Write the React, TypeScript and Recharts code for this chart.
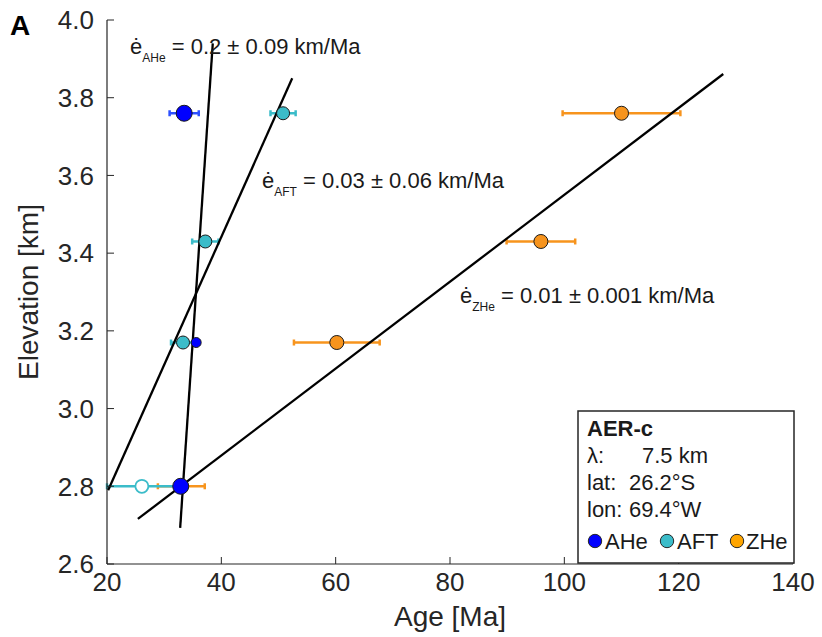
import { ScatterChart, Scatter, XAxis, YAxis, ErrorBar, ReferenceLine, Label } from "recharts";

const INK = "#262626";
const FONT = "'Liberation Sans', Arial, Helvetica, sans-serif";

// ages [Ma], elevations [km], age errors [Ma]
const aheAge = [33.5, 32.9];
const aheElev = [3.76, 2.8];
const aheErr = [2.55, 1.0];

// small AHe marker at 3.17 km (partly hidden behind the AFT point)
const aheSmallAge = [35.6];
const aheSmallElev = [3.17];
const aheSmallErr = [0.5];

const aftAge = [50.8, 37.2, 33.3];
const aftElev = [3.76, 3.43, 3.17];
const aftErr = [2.2, 2.3, 2.1];

// open AFT point (not used in the fit)
const aftOpenAge = [26.1];
const aftOpenElev = [2.8];
const aftOpenErr = [[6.1, 6.5]];

const zheAge = [110.0, 95.9, 60.2, 33.0];
const zheElev = [3.76, 3.43, 3.17, 2.8];
const zheErr = [10.3, 6.0, 7.5, 4.1];

// regression lines, end points as [age, elevation]
const aheFit = [[32.8, 2.693], [38.5, 3.94]];
const aftFit = [[20.2, 2.79], [52.4, 3.85]];
const zheFit = [[25.4, 2.716], [127.8, 3.861]];

const xTicks = [20, 40, 60, 80, 100, 120, 140];
const yTicks = [2.6, 2.8, 3.0, 3.2, 3.4, 3.6, 3.8, 4.0];

const rows = (age: number[], elev: number[], err: any[]) =>
  age.map((a, i) => ({ age: a, elev: elev[i], err: err[i] }));

const seg = (p: number[][]) => p.map(([x, y]) => ({ x, y }));

const dot = (r: number, fill: string, stroke = "#1a1a1a", sw = 1) => (props: any) =>
  <circle cx={props.cx} cy={props.cy} r={r} fill={fill} stroke={stroke} strokeWidth={sw} />;

const BLUE = "#0000ff";
const CYAN = "#3bbcc9";
const ORANGE = "#f7941d";

function Rate({ x, y, sub, text }: { x: number; y: number; sub: string; text: string }) {
  return (
    <text x={x} y={y} fontSize={22} fill="#1a1a1a">
      ė
      <tspan dy={8} fontSize={12}>{sub}</tspan>
      <tspan dy={-8}>{" " + text}</tspan>
    </text>
  );
}

export default function App() {
  const axisProps = {
    type: "number" as const,
    allowDataOverflow: true,
    axisLine: { stroke: INK, strokeWidth: 1.2 },
    tickLine: { stroke: INK },
    tickSize: -7,
  };

  return (
    <div style={{ position: "absolute", left: 0, top: 0, width: 822, height: 637, fontFamily: FONT, background: "#fff" }}>
      <ScatterChart width={822} height={637} margin={{ top: 20, right: 29, bottom: 29, left: 0 }} style={{ fontFamily: FONT }}>
        <XAxis
          {...axisProps}
          dataKey="age"
          domain={[20, 140]}
          ticks={xTicks}
          height={44}
          tickMargin={16}
          tick={{ fill: INK, fontSize: 26 }}
        >
          <Label value="Age [Ma]" position="bottom" offset={-2} fill={INK} fontSize={28} />
        </XAxis>
        <XAxis {...axisProps} xAxisId="top" orientation="top" domain={[20, 140]} ticks={xTicks} height={0} tick={false} />
        <YAxis
          {...axisProps}
          dataKey="elev"
          domain={[2.6, 4.0]}
          ticks={yTicks}
          width={107}
          tickMargin={20}
          tick={{ fill: INK, fontSize: 26 }}
          tickFormatter={(v: number) => v.toFixed(1)}
        >
          <Label value="Elevation [km]" angle={-90} position="insideLeft" offset={28} fill={INK} fontSize={28} style={{ textAnchor: "middle" }} />
        </YAxis>
        <YAxis {...axisProps} yAxisId="right" orientation="right" domain={[2.6, 4.0]} ticks={yTicks} width={0} tick={false} />

        <Scatter name="ZHe" data={rows(zheAge, zheElev, zheErr)} shape={dot(7, ORANGE)} isAnimationActive={false}>
          <ErrorBar dataKey="err" direction="x" width={3} stroke={ORANGE} strokeWidth={2.5} />
        </Scatter>
        <Scatter name="AFT open" data={rows(aftOpenAge, aftOpenElev, aftOpenErr)} shape={dot(6.5, "#fff", CYAN, 1.8)} isAnimationActive={false}>
          <ErrorBar dataKey="err" direction="x" width={3} stroke={CYAN} strokeWidth={2.5} />
        </Scatter>
        <Scatter name="AHe small" data={rows(aheSmallAge, aheSmallElev, aheSmallErr)} shape={dot(5, BLUE)} isAnimationActive={false}>
          <ErrorBar dataKey="err" direction="x" width={3} stroke="#2d50ff" strokeWidth={2.5} />
        </Scatter>
        <Scatter name="AHe" data={rows(aheAge, aheElev, aheErr)} shape={dot(8, BLUE)} isAnimationActive={false}>
          <ErrorBar dataKey="err" direction="x" width={3} stroke="#2d50ff" strokeWidth={2.5} />
        </Scatter>
        <Scatter name="AFT" data={rows(aftAge, aftElev, aftErr)} shape={dot(6.5, CYAN)} isAnimationActive={false}>
          <ErrorBar dataKey="err" direction="x" width={3} stroke={CYAN} strokeWidth={2.5} />
        </Scatter>

        <ReferenceLine segment={seg(aheFit)} stroke="#000" strokeWidth={2.3} />
        <ReferenceLine segment={seg(aftFit)} stroke="#000" strokeWidth={2.3} />
        <ReferenceLine segment={seg(zheFit)} stroke="#000" strokeWidth={2.3} />
      </ScatterChart>

      <svg width={822} height={637} style={{ position: "absolute", left: 0, top: 0, pointerEvents: "none", fontFamily: FONT }}>
        <text x={10} y={35} fontSize={28} fontWeight="bold" fill="#000">A</text>

        <Rate x={130} y={54} sub="AHe" text="= 0.2 ± 0.09 km/Ma" />
        <Rate x={262} y={188} sub="AFT" text="= 0.03 ± 0.06 km/Ma" />
        <Rate x={460} y={303} sub="ZHe" text="= 0.01 ± 0.001 km/Ma" />

        <rect x={578} y={411} width={216} height={152} fill="#fff" stroke={INK} strokeWidth={1.5} />
        <g fontSize={22} fill="#1a1a1a">
          <text x={587} y={436} fontWeight="bold">AER-c</text>
          <text x={587} y={463}>λ:</text>
          <text x={642} y={463}>7.5 km</text>
          <text x={587} y={490}>lat:</text>
          <text x={629} y={490}>26.2°S</text>
          <text x={587} y={517}>lon:</text>
          <text x={629} y={517}>69.4°W</text>
          <circle cx={595} cy={541} r={6.7} fill={BLUE} stroke={INK} strokeWidth={1} />
          <text x={605} y={549}>AHe</text>
          <circle cx={667} cy={541} r={6.7} fill={CYAN} stroke={INK} strokeWidth={1} />
          <text x={677} y={549}>AFT</text>
          <circle cx={737} cy={541} r={6.7} fill="#ffa500" stroke={INK} strokeWidth={1} />
          <text x={746} y={549}>ZHe</text>
        </g>
      </svg>
    </div>
  );
}
